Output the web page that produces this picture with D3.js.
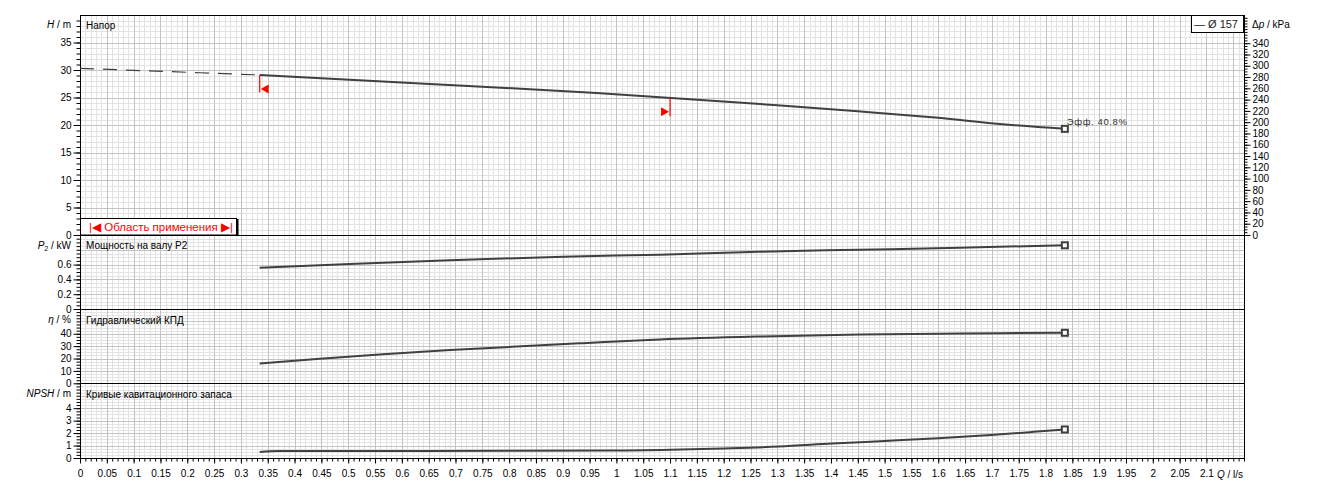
<!DOCTYPE html>
<html><head><meta charset="utf-8">
<script src="https://cdn.jsdelivr.net/npm/d3@7"></script>
<style>
html,body{margin:0;padding:0;background:#fff;}
svg{display:block;font-family:"Liberation Sans",Arial,sans-serif;}
</style></head>
<body>
<svg id="chart" width="1323" height="490"></svg>
<script>
// ---- data ----
const qTicks = d3.range(0, 2.1001, 0.05);
const hTickLabels = [0,5,10,15,20,25,30,35];
const kpaTickLabels = d3.range(0, 341, 20);
const pTickLabels = [0,0.2,0.4,0.6];
const eTickLabels = [0,10,20,30,40];
const nTickLabels = [0,1,2,3,4];

const qHeadDash = [0, 0.224, 0.335];
const headDash  = [30.3, 29.5, 29.1];
const qHead = [0.335, 0.485, 0.652, 0.839, 0.963, 1.137, 1.3, 1.45, 1.6, 1.715, 1.836];
const head  = [29.1, 28.3, 27.45, 26.5, 25.8, 24.7, 23.6, 22.5, 21.3, 20.2, 19.3];
const qPower = [0.335, 0.503, 0.702, 0.901, 1.081, 1.267, 1.454, 1.64, 1.836];
const power  = [0.558, 0.608, 0.662, 0.707, 0.734, 0.774, 0.801, 0.828, 0.861];
const qEff = [0.335, 0.441, 0.565, 0.69, 0.814, 0.938, 1.081, 1.267, 1.454, 1.64, 1.836];
const eff  = [15.9, 19.7, 23.5, 26.8, 29.7, 32.4, 35.4, 37.8, 39.4, 40.2, 40.8];
const qNpsh = [0.335, 0.37, 0.6, 0.99, 1.12, 1.2, 1.303, 1.402, 1.5, 1.6, 1.698, 1.778, 1.836];
const npsh  = [0.48, 0.56, 0.56, 0.6, 0.68, 0.77, 0.92, 1.16, 1.37, 1.59, 1.85, 2.1, 2.29];
const rangeQ = [0.335, 1.1];
const legendLabel = "— Ø 157";
const effLabel = "Эфф. 40.8%";
const rangeLabel = "|◀ Область применения ▶|";
const panelTitles = ["Напор", "Мощность на валу P2", "Гидравлический КПД", "Кривые кавитационного запаса"];

// ---- layout ----
const svg = d3.select("#chart");
const L = 80, R = 1244, T = 15;
const x = d3.scaleLinear([0, 2.17], [L, R]);
const yH = d3.scaleLinear([0, 40], [235, T]);
const yK = d3.scaleLinear([0, 390], [235, T]);
const yP = d3.scaleLinear([0, 1], [309, 235]);
const yE = d3.scaleLinear([0, 60], [383.3, 309]);
const yN = d3.scaleLinear([0, 6], [458, 383.3]);

const panels = [
  {y: yH, minor: 1, major: 5, labels: hTickLabels, fmt: d => d, title: "H / m", tY: 24},
  {y: yP, minor: 0.05, major: 0.2, labels: pTickLabels, fmt: d => d, title: "P₂ / kW", tY: 245},
  {y: yE, minor: 2.5, major: 10, labels: eTickLabels, fmt: d => d, title: "η / %", tY: 319},
  {y: yN, minor: 0.25, major: 1, labels: nTickLabels, fmt: d => d, title: "NPSH / m", tY: 393}
];

const grid = svg.append("g");
const qMinor = d3.range(0, 2.1701, 0.01);
grid.selectAll("line.vm").data(qMinor).join("line")
  .attr("x1", d => Math.round(x(d)) + 0.5).attr("x2", d => Math.round(x(d)) + 0.5)
  .attr("y1", T).attr("y2", 458).attr("stroke", "#e3e3e3");
panels.forEach(p => {
  const [d0, d1] = p.y.domain();
  const mins = d3.range(d0, d1 + 1e-9, p.minor);
  grid.selectAll(null).data(mins).join("line")
    .attr("x1", L).attr("x2", R)
    .attr("y1", d => Math.round(p.y(d)) + 0.5).attr("y2", d => Math.round(p.y(d)) + 0.5)
    .attr("stroke", "#e3e3e3");
});
grid.selectAll("line.vM").data(d3.range(0, 2.1701, 0.05)).join("line")
  .attr("x1", d => Math.round(x(d)) + 0.5).attr("x2", d => Math.round(x(d)) + 0.5)
  .attr("y1", T).attr("y2", 458).attr("stroke", "#c3c3c3");
panels.forEach(p => {
  const [d0, d1] = p.y.domain();
  const majs = d3.range(d0, d1 + 1e-9, p.major);
  grid.selectAll(null).data(majs).join("line")
    .attr("x1", L).attr("x2", R)
    .attr("y1", d => Math.round(p.y(d)) + 0.5).attr("y2", d => Math.round(p.y(d)) + 0.5)
    .attr("stroke", "#c3c3c3");
});

// frame lines
const frame = svg.append("g").attr("stroke", "#000").attr("shape-rendering", "crispEdges");
[T, 235, 309, 383, 458].forEach(yy => frame.append("line").attr("x1", L).attr("x2", R).attr("y1", yy + 0.5).attr("y2", yy + 0.5));
frame.append("line").attr("x1", L + 0.5).attr("x2", L + 0.5).attr("y1", T).attr("y2", 458.5);
frame.append("line").attr("x1", R + 0.5).attr("x2", R + 0.5).attr("y1", T).attr("y2", 458.5);

// left axes
panels.forEach(p => {
  const [d0, d1] = p.y.domain();
  const ax = d3.axisLeft(p.y).tickValues(d3.range(d0, d1 - p.minor * 0.5, p.minor))
    .tickSize(4).tickFormat("");
  const g = svg.append("g").attr("transform", `translate(${L + 0.5},0)`).call(ax);
  g.select(".domain").remove();
  g.selectAll("line").attr("stroke", "#000");
  const ax2 = d3.axisLeft(p.y).tickValues(p.labels).tickSize(7).tickPadding(2).tickFormat(p.fmt);
  const g2 = svg.append("g").attr("transform", `translate(${L + 0.5},0)`).call(ax2);
  g2.select(".domain").remove();
  g2.selectAll("line").attr("stroke", "#000");
  g2.selectAll("text").attr("font-size", 10).attr("font-family", "Liberation Sans, Arial").attr("fill", "#000");
  const t = svg.append("text").attr("x", 71).attr("y", p.tY + 4).attr("text-anchor", "end")
    .attr("font-size", 10).attr("fill", "#000");
  if (p.title === "P₂ / kW") {
    t.append("tspan").attr("font-style", "italic").text("P");
    t.append("tspan").attr("font-size", 7).attr("dy", 2).text("2");
    t.append("tspan").attr("dy", -2).text(" / kW");
  } else if (p.title === "H / m") {
    t.append("tspan").attr("font-style", "italic").text("H");
    t.append("tspan").text(" / m");
  } else if (p.title === "η / %") {
    t.append("tspan").attr("font-style", "italic").text("η");
    t.append("tspan").text(" / %");
  } else {
    t.append("tspan").attr("font-style", "italic").text("NPSH");
    t.append("tspan").text(" / m");
  }
});

// right kPa axis
{
  const axm = d3.axisRight(yK).tickValues(d3.range(0, 386, 5)).tickSize(3).tickFormat("");
  const g = svg.append("g").attr("transform", `translate(${R + 0.5},0)`).call(axm);
  g.select(".domain").remove(); g.selectAll("line").attr("stroke", "#000");
  const ax = d3.axisRight(yK).tickValues(kpaTickLabels).tickSize(6).tickPadding(2);
  const g2 = svg.append("g").attr("transform", `translate(${R + 0.5},0)`).call(ax);
  g2.select(".domain").remove(); g2.selectAll("line").attr("stroke", "#000");
  g2.selectAll("text").attr("font-size", 10).attr("font-family", "Liberation Sans, Arial").attr("fill", "#000");
  const t = svg.append("text").attr("x", 1252).attr("y", 28).attr("font-size", 10);
  t.append("tspan").text("Δ");
  t.append("tspan").attr("font-style", "italic").text("p");
  t.append("tspan").text(" / kPa");
}

// bottom axis
{
  const axm = d3.axisBottom(x).tickValues(d3.range(0, 2.1701, 0.01)).tickSize(3).tickFormat("");
  const g = svg.append("g").attr("transform", `translate(0,458.5)`).call(axm);
  g.select(".domain").remove(); g.selectAll("line").attr("stroke", "#000");
  const ax = d3.axisBottom(x).tickValues(qTicks).tickSize(5).tickPadding(6)
    .tickFormat(d => +d.toFixed(2) + "");
  const g2 = svg.append("g").attr("transform", `translate(0,458.5)`).call(ax);
  g2.select(".domain").remove(); g2.selectAll("line").attr("stroke", "#000");
  g2.selectAll("text").attr("font-size", 10).attr("font-family", "Liberation Sans, Arial").attr("fill", "#000");
  const t = svg.append("text").attr("x", 1243).attr("y", 478).attr("text-anchor", "end").attr("font-size", 10);
  t.append("tspan").attr("font-style", "italic").text("Q");
  t.append("tspan").text(" / l/s");
}

// panel titles
const titleY = [29, 249, 324, 398];
panelTitles.forEach((s, i) => svg.append("text").attr("x", 86).attr("y", titleY[i])
  .attr("font-size", 10).attr("fill", "#000").text(s));

// curves
const line = (ys) => d3.line().x(d => x(d[0])).y(d => ys(d[1])).curve(d3.curveMonotoneX);
const curveG = svg.append("g").attr("fill", "none").attr("stroke", "#404040");
curveG.append("path").datum(d3.zip(qHeadDash, headDash)).attr("d", line(yH))
  .attr("stroke-width", 1.2).attr("stroke-dasharray", "14,9");
const series = [[qHead, head, yH], [qPower, power, yP], [qEff, eff, yE], [qNpsh, npsh, yN]];
series.forEach(([q, v, ys]) => {
  curveG.append("path").datum(d3.zip(q, v)).attr("d", line(ys)).attr("stroke-width", 2);
  svg.append("rect").attr("x", x(q[q.length - 1]) - 3).attr("y", ys(v[v.length - 1]) - 3)
    .attr("width", 6).attr("height", 6).attr("fill", "#fff").attr("stroke", "#404040").attr("stroke-width", 2);
});

// efficiency label
svg.append("text").attr("x", x(qHead[qHead.length - 1]) + 2).attr("y", yH(head[head.length - 1]) - 4)
  .attr("font-size", 9.5).attr("letter-spacing", 0.6).attr("fill", "#333").text(effLabel);

// range markers
const hAt = q => d3.scaleLinear(qHead, head)(q);
{
  const q0 = rangeQ[0], xa = x(q0), ya = yH(hAt(q0));
  svg.append("line").attr("x1", xa).attr("x2", xa).attr("y1", ya).attr("y2", ya + 17.5).attr("stroke", "#f00").attr("stroke-width", 1.2);
  const ym = ya + 14;
  svg.append("path").attr("d", `M${xa + 1},${ym} L${xa + 9},${ym - 4.5} L${xa + 9},${ym + 4.5} Z`).attr("fill", "#f00");
  const q1 = rangeQ[1], xb = x(q1), yb = yH(hAt(q1));
  svg.append("line").attr("x1", xb).attr("x2", xb).attr("y1", yb).attr("y2", yb + 18.5).attr("stroke", "#f00").attr("stroke-width", 1.2);
  const yn = yb + 14;
  svg.append("path").attr("d", `M${xb - 1},${yn} L${xb - 9},${yn - 4.5} L${xb - 9},${yn + 4.5} Z`).attr("fill", "#f00");
}

// application range box
svg.append("rect").attr("x", 80.5).attr("y", 218.5).attr("width", 156).attr("height", 16.5)
  .attr("fill", "#fff").attr("stroke", "#000");
svg.append("line").attr("x1", 237.5).attr("x2", 237.5).attr("y1", 219).attr("y2", 235).attr("stroke", "#000").attr("stroke-width", 2);
svg.append("text").attr("x", 161).attr("y", 231).attr("text-anchor", "middle").attr("font-size", 11.5)
  .attr("fill", "#f00").text(rangeLabel);

// legend
svg.append("rect").attr("x", 1191.5).attr("y", 15.5).attr("width", 52).attr("height", 17)
  .attr("fill", "#fff").attr("stroke", "#000");
svg.append("text").attr("x", 1238).attr("y", 28).attr("text-anchor", "end").attr("font-size", 11)
  .attr("fill", "#222").text(legendLabel);
</script>
</body></html>
